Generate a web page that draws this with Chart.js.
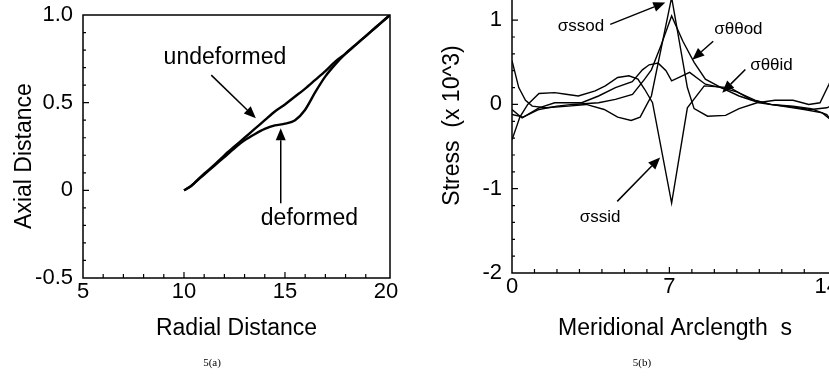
<!DOCTYPE html>
<html><head><meta charset="utf-8">
<script src="https://cdn.jsdelivr.net/npm/chart.js@4/dist/chart.umd.min.js"></script>
<style>
html,body{margin:0;padding:0;background:#fff;width:829px;height:381px;overflow:hidden;position:relative}
#wa{position:absolute;left:0;top:0;width:415px;height:381px}
#wb{position:absolute;left:420px;top:-22px;width:418px;height:403px}
.cap{position:absolute;font-family:"Liberation Serif",serif;font-size:11px;color:#000;transform:translate(-50%,-50%);white-space:nowrap}
</style></head><body>
<div id="wa"><canvas id="ca"></canvas></div>
<div id="wb"><canvas id="cb"></canvas></div>
<div class="cap" style="left:212px;top:362px">5(a)</div>
<div class="cap" style="left:642px;top:362px">5(b)</div>
<script>
// ---------- Panel 5(a) data ----------
const radialUndeformed = [10, 10.3, 10.5, 11, 11.5, 12, 12.5, 13, 13.5, 14, 14.5, 15, 15.5, 16, 16.5, 17, 17.5, 18, 18.5, 19, 19.5, 20, 20.2];
const axialUndeformed  = [0, 0.02, 0.04, 0.095, 0.145, 0.2, 0.25, 0.3, 0.35, 0.4, 0.45, 0.49, 0.535, 0.58, 0.63, 0.68, 0.735, 0.78, 0.83, 0.88, 0.93, 0.98, 1.0];
const radialDeformed   = [10, 10.3, 10.5, 11, 11.5, 12, 12.5, 13, 13.5, 14, 14.5, 15, 15.5, 16, 16.5, 17, 17.5, 18, 18.5, 19, 19.5, 20, 20.2];
const axialDeformed    = [0, 0.02, 0.04, 0.09, 0.14, 0.19, 0.24, 0.285, 0.32, 0.35, 0.37, 0.38, 0.4, 0.46, 0.56, 0.65, 0.72, 0.78, 0.83, 0.88, 0.93, 0.98, 1.0];
const xTicksA = [5, 10, 15, 20];
const yTicksA = [-0.5, 0, 0.5, 1.0];
const xMinorA = [6,7,8,9,11,12,13,14,16,17,18,19];
const yMinorA = [-0.4,-0.3,-0.2,-0.1,0.1,0.2,0.3,0.4,0.6,0.7,0.8,0.9];

// ---------- Panel 5(b) data ----------
const sSsod = [0, 0.3, 0.6, 0.9, 1.5, 2.5, 3.3, 4.1, 4.7, 5.3, 5.7, 6.0, 6.2, 7.1, 7.8, 8.1, 8.7, 9.5, 10.1, 10.9, 11.7, 12.5, 13.2, 13.7, 14.1, 14.5];
const vSsod = [0.52, 0.2, 0.05, -0.02, -0.04, -0.02, 0.0, -0.06, -0.15, -0.19, -0.15, 0.0, 0.1, 1.27, 0.2, -0.05, -0.14, -0.13, -0.05, 0.02, 0.05, 0.05, 0.0, 0.02, 0.24, 0.5];
const sTtod = [0, 0.5, 1.2, 2.0, 2.7, 3.85, 4.6, 5.36, 5.9, 6.2, 6.6, 7.1, 7.6, 8.1, 8.6, 9.3, 10.1, 11.0, 12.0, 13.0, 13.8, 14.5];
const vTtod = [-0.12, -0.15, -0.06, -0.02, 0.0, 0.02, 0.06, 0.12, 0.3, 0.41, 0.68, 1.05, 0.75, 0.5, 0.3, 0.2, 0.1, 0.02, -0.02, -0.06, -0.1, -0.25];
const sTtid = [0, 0.45, 1.2, 1.9, 3.1, 3.85, 4.6, 5.35, 5.8, 6.1, 6.5, 6.85, 7.1, 7.5, 7.9, 8.6, 9.3, 10.0, 10.8, 11.5, 12.5, 13.3, 14.0, 14.5];
const vTtid = [-0.06, -0.16, -0.04, 0.02, 0.02, 0.1, 0.2, 0.27, 0.41, 0.47, 0.49, 0.4, 0.28, 0.33, 0.38, 0.24, 0.2, 0.15, 0.05, 0.0, -0.02, -0.05, -0.12, -0.3];
const sSsid = [0, 0.35, 0.7, 1.2, 1.9, 2.4, 2.95, 3.7, 4.15, 4.7, 5.2, 5.6, 5.9, 6.25, 7.1, 7.8, 8.55, 9.7, 10.6, 11.5, 12.5, 13.3, 14.0, 14.5];
const vSsid = [-0.42, -0.15, 0.0, 0.13, 0.14, 0.12, 0.1, 0.16, 0.22, 0.32, 0.34, 0.3, 0.18, 0.02, -1.17, -0.04, 0.22, 0.2, 0.06, 0.0, -0.03, -0.06, -0.04, 0.02];
const xTicksB = [0, 7, 14];
const yTicksB = [-2, -1, 0, 1];
const xMinorB = [1,2,3,4,5,6,8,9,10,11,12,13];
const yMinorB = [-1.8,-1.6,-1.4,-1.2,-0.8,-0.6,-0.4,-0.2,0.2,0.4,0.6,0.8];

const FONT = "'Liberation Sans', Arial, sans-serif";
const pts = (xs, ys) => xs.map((x, i) => ({x, y: ys[i]}));

const decor = {
  id: 'decor',
  afterDraw(chart, args, o) {
    const {ctx, chartArea: a, scales: {x, y}} = chart;
    ctx.save();
    ctx.strokeStyle = '#000';
    ctx.lineWidth = 1.5;
    ctx.strokeRect(a.left, a.top, a.right - a.left, a.bottom - a.top);
    ctx.lineWidth = 1.2;
    ctx.beginPath();
    const tx = (arr, len) => arr.forEach(v => { const p = x.getPixelForValue(v); ctx.moveTo(p, a.bottom); ctx.lineTo(p, a.bottom - len); });
    const ty = (arr, len) => arr.forEach(v => { const p = y.getPixelForValue(v); ctx.moveTo(a.left, p); ctx.lineTo(a.left + len, p); });
    tx(o.xMinor, 4); tx(o.xMajor, 6); ty(o.yMinor, 3); ty(o.yMajor, 6);
    ctx.stroke();
    ctx.fillStyle = '#000';
    ctx.textAlign = 'center';
    ctx.textBaseline = 'middle';
    ctx.font = o.labelFont;
    o.labels.forEach(l => ctx.fillText(l.text, x.getPixelForValue(l.x), y.getPixelForValue(l.y)));
    ctx.lineWidth = 1.5;
    o.arrows.forEach(r => {
      const x1 = x.getPixelForValue(r.x1), y1 = y.getPixelForValue(r.y1);
      const x2 = x.getPixelForValue(r.x2), y2 = y.getPixelForValue(r.y2);
      const ang = Math.atan2(y2 - y1, x2 - x1), L = 12, W = 5;
      const bx = x2 - L * Math.cos(ang), by = y2 - L * Math.sin(ang);
      ctx.beginPath(); ctx.moveTo(x1, y1); ctx.lineTo(bx, by); ctx.stroke();
      ctx.beginPath();
      ctx.moveTo(x2, y2);
      ctx.lineTo(bx + W * Math.sin(ang), by - W * Math.cos(ang));
      ctx.lineTo(bx - W * Math.sin(ang), by + W * Math.cos(ang));
      ctx.closePath(); ctx.fill();
    });
    ctx.restore();
  }
};

function axis(min, max, ticks, fmt, fit, title, tpad) {
  return {
    type: 'linear', min, max,
    afterFit: s => { fit(s); s.paddingTop = 0; s.paddingBottom = 0; s.paddingLeft = 0; s.paddingRight = 0; },
    afterBuildTicks: s => { s.ticks = ticks.map(v => ({value: v})); },
    grid: {display: false, drawTicks: false},
    border: {display: false},
    ticks: {color: '#000', font: {family: FONT, size: 22}, padding: tpad, callback: fmt},
    title: {display: true, text: title.text, color: '#000', font: {family: FONT, size: 23}, padding: title.padding}
  };
}

const lineDs = (data, w, t) => ({data, borderColor: '#000', borderWidth: w, pointRadius: 0, tension: t, fill: false});

Chart.defaults.font.family = FONT;

new Chart(document.getElementById('ca'), {
  type: 'line',
  data: {datasets: [
    lineDs(pts(radialUndeformed, axialUndeformed), 2.4, 0.3),
    lineDs(pts(radialDeformed, axialDeformed), 2.4, 0.3)
  ]},
  options: {
    animation: false, responsive: true, maintainAspectRatio: false, devicePixelRatio: 1,
    layout: {padding: {top: 15, right: 25, left: 0, bottom: 0}},
    plugins: {
      legend: {display: false}, tooltip: {enabled: false},
      decor: {
        xMinor: xMinorA, xMajor: [10, 15], yMinor: yMinorA, yMajor: [0, 0.5],
        labelFont: "23px 'Liberation Sans', Arial, sans-serif",
        labels: [{text: 'undeformed', x: 12.03, y: 0.754}, {text: 'deformed', x: 16.21, y: -0.16}],
        arrows: [{x1: 11.35, y1: 0.657, x2: 13.56, y2: 0.411}, {x1: 14.79, y1: -0.074, x2: 14.79, y2: 0.354}]
      }
    },
    scales: {
      x: axis(5, 20.2, xTicksA, v => String(v), s => { s.height = 103; }, {text: 'Radial Distance', padding: {top: 0, bottom: 39}}, 1),
      y: axis(-0.5, 1.0, yTicksA, v => v === 0 ? '0' : v.toFixed(1), s => { s.width = 83; }, {text: 'Axial Distance   ', padding: {top: 11, bottom: 0}}, 10)
    }
  },
  plugins: [decor]
});

new Chart(document.getElementById('cb'), {
  type: 'line',
  data: {datasets: [
    lineDs(pts(sSsod, vSsod), 1.4, 0),
    lineDs(pts(sTtod, vTtod), 1.4, 0),
    lineDs(pts(sTtid, vTtid), 1.4, 0),
    lineDs(pts(sSsid, vSsid), 1.4, 0)
  ]},
  options: {
    animation: false, responsive: true, maintainAspectRatio: false, devicePixelRatio: 1,
    layout: {padding: {top: 0, right: 0, left: 0, bottom: 0}},
    plugins: {
      legend: {display: false}, tooltip: {enabled: false},
      decor: {
        xMinor: xMinorB, xMajor: [7], yMinor: yMinorB, yMajor: [-1, 0, 1],
        labelFont: "17px 'Liberation Sans', Arial, sans-serif",
        labels: [
          {text: 'σssod', x: 3.07, y: 0.925},
          {text: 'σθθod', x: 10.07, y: 0.89},
          {text: 'σθθid', x: 11.54, y: 0.46},
          {text: 'σssid', x: 3.92, y: -1.34}
        ],
        arrows: [
          {x1: 4.37, y1: 0.95, x2: 6.82, y2: 1.21},
          {x1: 8.95, y1: 0.75, x2: 8.02, y2: 0.53},
          {x1: 10.38, y1: 0.415, x2: 9.35, y2: 0.14},
          {x1: 4.68, y1: -1.15, x2: 6.59, y2: -0.63}
        ]
      }
    },
    scales: {
      x: axis(0, 14.5, xTicksB, v => String(v), s => { s.height = 108; }, {text: 'Meridional Arclength  s', padding: {top: 0, bottom: 39}}, 1),
      y: axis(-2, 1.5, yTicksB, v => String(v), s => { s.width = 92; }, {text: 'Stress  (x 10^3)', padding: {top: 19, bottom: 0}}, 10)
    }
  },
  plugins: [decor]
});
</script>
</body></html>
